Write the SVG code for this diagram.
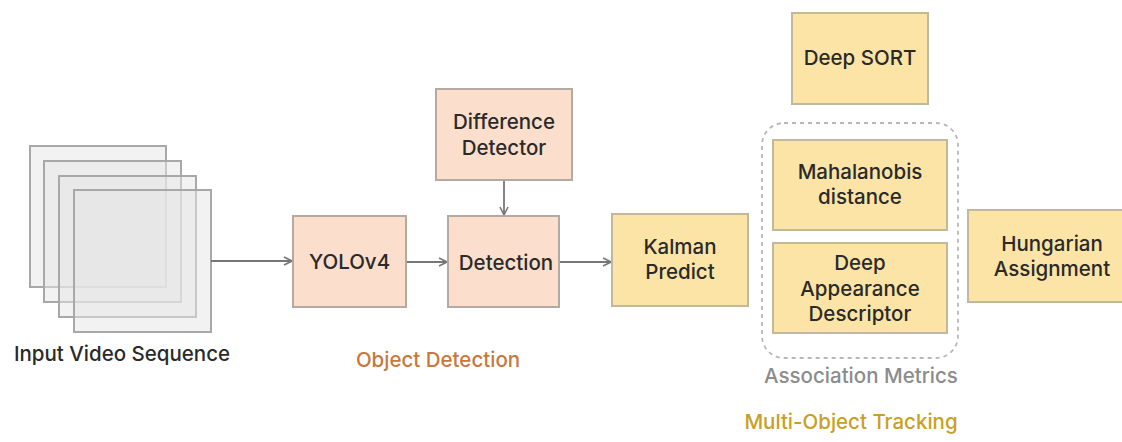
<svg xmlns="http://www.w3.org/2000/svg" width="1122" height="442" viewBox="0 0 1122 442">
<defs>
<marker id="arr" viewBox="0 0 10 10" refX="9" refY="5" markerWidth="10" markerHeight="10" markerUnits="userSpaceOnUse" orient="auto">
<path d="M1,1 L9,5 L1,9" fill="none" stroke="#777" stroke-width="1.6"/>
</marker>
<style>
text{font-family:Inter,"Noto Sans",sans-serif;font-size:20.5px;font-weight:500;fill:#2a2a2a;text-anchor:middle}
.frame{fill:#e6e6e6;fill-opacity:0.5;stroke:#a8a8a8;stroke-width:2}
.peach{fill:#fbdfcc;stroke:#b3aaa4;stroke-width:2}
.yel{fill:#fce4a6;stroke:#c2b89a;stroke-width:2}
.conn{stroke:#777;stroke-width:1.8;fill:none;marker-end:url(#arr)}
.dash{fill:none;stroke:#b8b8b8;stroke-width:1.8;stroke-dasharray:4 4}
</style>
</defs>
<rect width="1122" height="442" fill="#ffffff"/>
<g id="input">
<rect class="frame" x="30" y="146" width="136" height="141"/>
<rect class="frame" x="44" y="161" width="137" height="141"/>
<rect class="frame" x="59" y="176" width="137" height="141"/>
<rect class="frame" x="74" y="190" width="137" height="142"/>
<text x="122" y="361">Input Video Sequence</text>
</g>
<g id="connectors">
<line class="conn" x1="211" y1="261" x2="292" y2="261"/>
<line class="conn" x1="406" y1="262" x2="447" y2="262"/>
<line class="conn" x1="504" y1="180" x2="504" y2="215"/>
<line class="conn" x1="559" y1="262" x2="611" y2="262"/>
</g>
<g id="yolov4">
<rect class="peach" x="293" y="216" width="113" height="91"/>
<text x="349.5" y="269">YOLOv4</text>
</g>
<g id="difference-detector">
<rect class="peach" x="436" y="89" width="136" height="91"/>
<text x="504" y="129">Difference</text>
<text x="504" y="155">Detector</text>
</g>
<g id="detection">
<rect class="peach" x="448" y="216" width="111" height="91"/>
<text x="506" y="270">Detection</text>
</g>
<text x="438" y="367" style="fill:#c8783c">Object Detection</text>
<g id="kalman">
<rect class="yel" x="612" y="214" width="136" height="92"/>
<text x="680" y="254">Kalman</text>
<text x="680" y="279">Predict</text>
</g>
<g id="deep-sort">
<rect class="yel" x="792" y="13" width="136" height="91"/>
<text x="860" y="65">Deep SORT</text>
</g>
<g id="association-metrics">
<rect class="dash" x="762" y="123" width="196" height="235" rx="22"/>
<text x="861" y="383" style="fill:#8c8c8c">Association Metrics</text>
</g>
<g id="mahalanobis">
<rect class="yel" x="773" y="140" width="174" height="90"/>
<text x="860" y="179">Mahalanobis</text>
<text x="860" y="204">distance</text>
</g>
<g id="deep-appearance">
<rect class="yel" x="773" y="243" width="174" height="90"/>
<text x="860" y="270">Deep</text>
<text x="860" y="296">Appearance</text>
<text x="860" y="321">Descriptor</text>
</g>
<g id="hungarian">
<rect class="yel" x="968" y="210" width="160" height="92"/>
<text x="1052" y="251">Hungarian</text>
<text x="1052" y="276">Assignment</text>
</g>
<text x="851" y="429" style="fill:#c9a024">Multi-Object Tracking</text>
</svg>
